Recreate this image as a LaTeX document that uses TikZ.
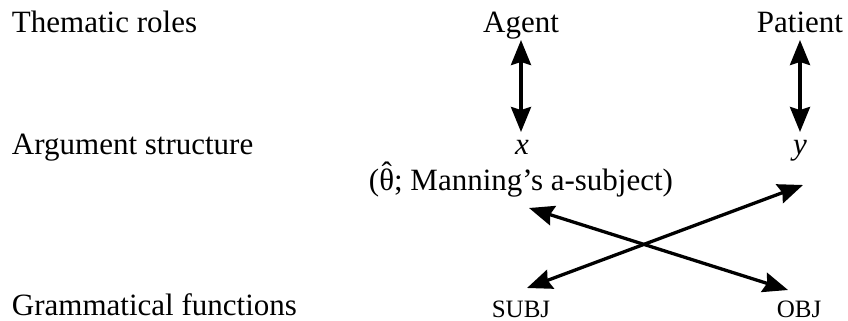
\documentclass[tikz,border=0pt]{standalone}
\usepackage{fontspec}
\setmainfont{Liberation Serif}
\usetikzlibrary{arrows.meta,calc}
\newcommand{\hattheta}{\ooalign{θ\cr\hidewidth\raisebox{0.2em}{ˆ}\hidewidth\cr}}
\begin{document}
\begin{tikzpicture}[x=1pt,y=-1pt,
  every node/.style={inner sep=0pt,outer sep=0pt,font=\fontsize{31}{36}\selectfont},
  lab/.style={anchor=base west},
  word/.style={anchor=base},
  sc/.style={anchor=base,font=\fontsize{25}{30}\selectfont},
  arr/.style={line width=3.3pt,{Stealth[length=25pt,width=20pt,inset=3pt]}-{Stealth[length=25pt,width=20pt,inset=3pt]}}]
\useasboundingbox (0,0) rectangle (848,321);
% row labels
\node[lab] (th) at (12,33) {Thematic roles};
\node[lab] (as) at (12,154) {Argument structure};
\node[lab] (gf) at (12,315) {Grammatical functions};
% thematic roles
\node[word] (agent) at (521,33) {Agent};
\node[word] (patient) at (800,33) {Patient};
% arguments
\node[word] (xv) at (522,154) {\textit{x}};
\node[word] (yv) at (800,154) {\textit{y}};
\node[word] (paren) at (521,190) {(\hattheta; Manning’s a-subject)};
% functions
\node[sc] (subj) at (521,317) {SUBJ};
\node[sc] (obj) at (799,317) {OBJ};
% arrow end points
\coordinate (agtip) at ($(agent.base)+(0,7)$);
\coordinate (xtip) at ($(xv.base)+(-1,-22)$);
\coordinate (pttip) at ($(patient.base)+(0,7)$);
\coordinate (ytop) at ($(yv.base)+(0,-22)$);
\coordinate (ytip) at ($(yv.base)+(3,31)$);
\coordinate (subjtip) at ($(subj.base)+(6,-29)$);
\coordinate (partip) at ($(paren.base)+(8,18)$);
\coordinate (objtip) at ($(obj.base)+(-11,-27)$);
% connectors
\draw[arr] (agtip) -- (xtip);
\draw[arr] (pttip) -- (ytop);
\draw[arr] (ytip) -- (subjtip);
\draw[arr] (partip) -- (objtip);
\end{tikzpicture}
\end{document}
